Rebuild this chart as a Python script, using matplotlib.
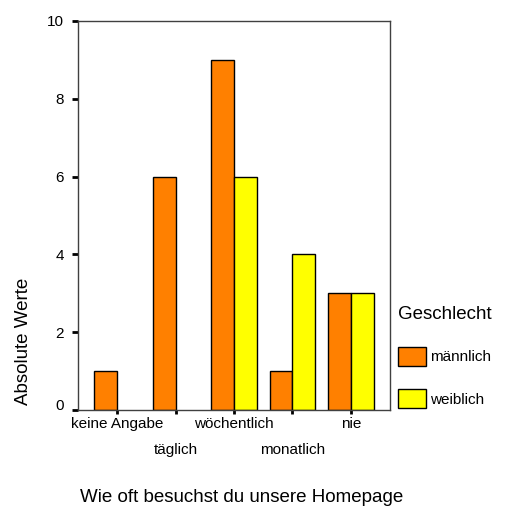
import numpy as np
import matplotlib
matplotlib.use("Agg")
import matplotlib.pyplot as plt
from matplotlib.transforms import ScaledTranslation

plt.rcParams['font.family'] = ['Liberation Sans', 'DejaVu Sans']

kategorien = ["keine Angabe", "täglich", "wöchentlich", "monatlich", "nie"]
maennlich = [1, 6, 9, 1, 3]
weiblich = [0, 0, 6, 4, 3]
serien = ["männlich", "weiblich"]
farben = ["#FF8000", "#FFFF00"]

W, H = 506, 508
fig = plt.figure(figsize=(W / 100, H / 100), dpi=100)
# axes box in pixels: left 78, right 390, top 21, bottom 410
ax = fig.add_axes([78 / W, (H - 410) / H, 312 / W, 389 / H])

x = np.arange(len(kategorien))
bw = 0.393
for i, (werte, name, col) in enumerate(zip([maennlich, weiblich], serien, farben)):
    werte = np.array(werte)
    mask = werte > 0
    xs = x + (bw / 2 if i else -bw / 2)
    ax.bar(xs[mask], werte[mask], bw, color=col, edgecolor="black", linewidth=1, label=name)

ax.set_xlim(-0.667, len(kategorien) - 1 + 0.667)
ax.set_ylim(0, 10)
ax.set_yticks([0, 2, 4, 6, 8, 10])
ax.tick_params(axis="y", direction="out", length=4, width=2, colors="black",
               labelsize=11, pad=6)
ax.set_xticks(x)
ax.set_xticklabels([])
ax.tick_params(axis="x", direction="out", length=3, width=2, colors="black")
for s in ax.spines.values():
    s.set_color("#404040")
    s.set_linewidth(1)

# the 0 label sits a little above its tick
lab0 = ax.get_yticklabels()[0]
lab0.set_transform(lab0.get_transform() + ScaledTranslation(0, 0.06, fig.dpi_scale_trans))

# staggered category labels
for i, k in enumerate(kategorien):
    off = -14 if i % 2 == 0 else -40
    ax.annotate(k, xy=(i, 0), xycoords=("data", "axes fraction"),
                xytext=(0, off), textcoords="offset pixels",
                ha="center", va="center", fontsize=11)

fig.text(24 / W, 1 - 341 / H, "Absolute Werte", rotation=90,
         ha="center", va="center", fontsize=13.5)
fig.text(242 / W, 1 - 498 / H, "Wie oft besuchst du unsere Homepage",
         ha="center", va="center", fontsize=13.5)

leg = ax.legend(title="Geschlecht", loc="upper left",
                bbox_to_anchor=(395 / W, 1 - 303 / H), bbox_transform=fig.transFigure,
                frameon=False, fontsize=11, title_fontsize=13.5, alignment="left",
                handlelength=1.83, handleheight=1.53, handletextpad=0.26,
                labelspacing=1.55, borderpad=0.2, borderaxespad=0)
for p in leg.get_patches():
    p.set_edgecolor("black")

fig.savefig("out.png", dpi=100)
